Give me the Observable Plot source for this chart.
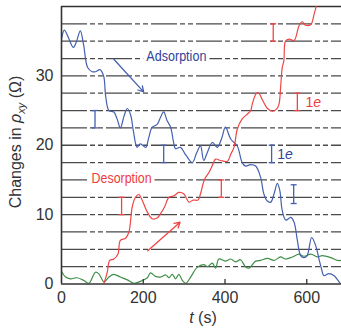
<!DOCTYPE html>
<html>
<head>
<meta charset="utf-8">
<script src="https://cdn.jsdelivr.net/npm/d3@7"></script>
<script src="https://cdn.jsdelivr.net/npm/@observablehq/plot@0.6"></script>
<style>
  body { margin: 0; background: #fff; }
  svg { display: block; }
</style>
</head>
<body>
<div id="chart"></div>
<script>
// Time axis (s) and changes in rho_xy (Ω) for each trace
const adsorptionT = [0, 7, 17, 29, 37, 46, 54, 64, 75, 83, 94, 103, 108, 116, 128, 136, 144, 153, 161, 169, 176, 185, 193, 206, 213, 222, 234, 242, 250, 258, 267, 274, 279, 291, 303, 320, 330, 340, 348, 357, 369, 381, 392, 401, 414, 430, 442, 450, 463, 475, 487, 495, 503, 512, 520, 528, 534, 540, 549, 561, 569, 577, 585, 593, 601, 612, 622, 630, 636, 642, 654, 667, 679, 690];
const adsorptionR = [35.3, 36.6, 35.5, 34.1, 35.0, 36.5, 34.5, 31.2, 30.6, 30.6, 30.9, 30.0, 27.1, 25.0, 24.8, 23.8, 22.5, 24.2, 25.3, 24.4, 22.0, 19.7, 20.2, 19.7, 21.0, 22.6, 23.0, 24.0, 24.8, 23.6, 22.6, 20.5, 19.5, 19.7, 18.7, 17.5, 18.8, 19.9, 17.8, 19.0, 20.4, 19.7, 21.0, 22.6, 20.9, 19.9, 17.5, 17.0, 17.2, 17.0, 15.4, 13.0, 12.0, 11.8, 13.0, 14.5, 13.5, 10.6, 9.2, 9.6, 8.9, 6.3, 4.1, 3.8, 4.1, 6.7, 5.5, 3.6, 2.2, 1.2, 1.5, 1.2, 0.3, -0.5];

const desorptionT = [104, 112, 118, 128, 138, 144, 157, 165, 173, 181, 189, 198, 208, 222, 234, 242, 252, 263, 275, 287, 299, 312, 322, 334, 340, 350, 361, 369, 377, 389, 406, 414, 422, 430, 442, 455, 463, 467, 477, 483, 491, 504, 516, 526, 532, 536, 540, 544, 548, 557, 569, 581, 589, 597, 610, 618, 624, 630];
const desorptionR = [0.1, 1.7, 3.4, 3.6, 4.3, 6.3, 6.6, 7.5, 11.1, 12.5, 12.9, 12.0, 10.6, 9.4, 9.5, 10.1, 11.1, 12.5, 12.7, 13.2, 13.0, 11.8, 12.1, 12.1, 13.0, 15.1, 16.1, 17.1, 18.0, 17.8, 17.7, 18.7, 19.7, 22.3, 23.8, 24.5, 25.0, 26.0, 27.5, 27.5, 26.6, 25.3, 24.9, 25.2, 25.9, 28.3, 31.2, 32.2, 35.0, 35.3, 35.1, 37.2, 37.8, 37.3, 37.4, 38.9, 40.2, 41.5];

const baselineT = [0, 10, 22, 38, 55, 67, 83, 91, 104, 116, 128, 144, 161, 177, 198, 210, 218, 230, 242, 255, 263, 271, 279, 287, 296, 304, 316, 332, 348, 357, 369, 377, 385, 402, 414, 426, 438, 450, 459, 475, 487, 504, 520, 536, 548, 565, 581, 593, 610, 626, 638, 659, 675, 685];
const baselineR = [1.8, 1.0, 0.75, 0.9, 0.5, 0.1, 1.7, 1.5, 0.3, 1.0, 1.4, 1.0, 0.6, 0.1, 0.5, 0.9, 1.6, 1.1, 1.0, 1.3, 0.9, 1.4, 0.75, 1.4, 0.5, 0.1, 1.0, 2.4, 2.8, 2.5, 3.0, 2.3, 3.6, 3.3, 3.6, 3.2, 3.5, 2.5, 2.3, 3.3, 3.4, 3.7, 3.4, 3.9, 3.6, 3.9, 4.3, 4.0, 4.3, 3.9, 4.1, 3.8, 3.4, 3.4];

// Quantized levels (one electron per step) and axis ticks
const levels = [2.5, 5, 7.5, 10, 12.5, 15, 17.5, 20, 22.5, 25, 27.5, 30, 32.5, 35, 37.5];
const xTicks = [0, 200, 400, 600];
const yTicks = [0, 10, 20, 30];

// One-electron scale bars
const blueBarT = [82, 250, 514, 568];
const blueBarLo = [22.5, 17.5, 17.5, 11.6];
const blueBarHi = [25, 20, 20, 14.3];
const redBarT = [147, 391, 518, 577];
const redBarLo = [10, 12.5, 35, 25];
const redBarHi = [12.5, 15, 37.5, 27.5];

// Trend arrows [t1, r1, t2, r2]
const blueArrow = [128, 32.4, 201, 27.7];
const redArrow = [211, 4.8, 290, 8.9];

// Annotations
const labelNames = ["Adsorption", "Desorption"];
const labelT = [281, 147];
const labelR = [32.8, 15.2];
const unitLabelT = [528, 597];
const unitLabelR = [18.7, 26.2];

const BLUE = "#4560b0", BLUE_TEXT = "#2f449a";
const RED = "#f04545", RED_TEXT = "#ef3b3b";
const GREEN = "#3f8f48";
const AXIS = "#333";

const series = (ts, rs) => ts.map((t, i) => ({t, r: rs[i]}));
const bars = (ts, lo, hi) => ts.map((t, i) => ({t, lo: lo[i], hi: hi[i]}));

// horizontal cap for scale bars, and an inward-pointing axis tick
const capSymbol = {draw(ctx, size) { const r = Math.sqrt(size / Math.PI); ctx.moveTo(-r, 0); ctx.lineTo(r, 0); }};
const tickSymbol = {draw(ctx, size) { const r = Math.sqrt(size / Math.PI); ctx.moveTo(0, 0); ctx.lineTo(0, -r); }};

const barMarks = (data, color) => [
  Plot.ruleX(data, {x: "t", y1: "lo", y2: "hi", stroke: color, strokeWidth: 1.3}),
  Plot.dot(data, {x: "t", y: "lo", symbol: capSymbol, r: 3, stroke: color, strokeWidth: 1.3, fill: "none"}),
  Plot.dot(data, {x: "t", y: "hi", symbol: capSymbol, r: 3, stroke: color, strokeWidth: 1.3, fill: "none"})
];

const chart = Plot.plot({
  width: 341,
  height: 330,
  marginTop: 6,
  marginRight: 0,
  marginBottom: 46.5,
  marginLeft: 61,
  x: {domain: [0, 685]},
  y: {domain: [0, 40]},
  style: {fontFamily: "'Liberation Sans', Arial, sans-serif", fontSize: "16px", color: AXIS, background: "#fff"},
  marks: [
    Plot.ruleY(levels, {stroke: "#4a4a4a", strokeWidth: 1.3, strokeDasharray: "26,3,5,3,5,3"}),
    Plot.ruleY([40], {stroke: AXIS, strokeWidth: 1.3}),
    Plot.line(series(baselineT, baselineR), {x: "t", y: "r", stroke: GREEN, strokeWidth: 1.2, curve: "catmull-rom", clip: true}),
    Plot.line(series(adsorptionT, adsorptionR), {x: "t", y: "r", stroke: BLUE, strokeWidth: 1.2, curve: "catmull-rom", clip: true}),
    Plot.line(series(desorptionT, desorptionR), {x: "t", y: "r", stroke: RED, strokeWidth: 1.2, curve: "catmull-rom", clip: true}),
    ...barMarks(bars(blueBarT, blueBarLo, blueBarHi), BLUE),
    ...barMarks(bars(redBarT, redBarLo, redBarHi), RED),
    Plot.arrow([blueArrow], {x1: d => d[0], y1: d => d[1], x2: d => d[2], y2: d => d[3], stroke: BLUE, strokeWidth: 1.3, headLength: 7}),
    Plot.arrow([redArrow], {x1: d => d[0], y1: d => d[1], x2: d => d[2], y2: d => d[3], stroke: RED, strokeWidth: 1.3, headLength: 7}),
    Plot.text(labelNames, {
      x: (d, i) => labelT[i], y: (d, i) => labelR[i], text: d => d,
      fill: (d, i) => i === 0 ? BLUE_TEXT : RED_TEXT,
      stroke: "#fff", strokeWidth: 8,
      fontSize: 14
    }),
    Plot.text(["1e", "1e"], {
      x: (d, i) => unitLabelT[i], y: (d, i) => unitLabelR[i], text: d => d,
      fill: (d, i) => i === 0 ? BLUE_TEXT : RED_TEXT,
      textAnchor: "start", fontSize: 14
    }),
    Plot.axisX({ticks: xTicks, tickSize: 0, tickPadding: 8, label: null, fontSize: 16}),
    Plot.axisY({ticks: yTicks, tickSize: 0, tickPadding: 8, label: null, fontSize: 16}),
    Plot.dot(xTicks.slice(1), {x: d => d, y: 0, symbol: tickSymbol, r: 5, stroke: AXIS, strokeWidth: 1.3}),
    Plot.ruleX([0], {stroke: AXIS, strokeWidth: 1.6}),
    Plot.ruleY([0], {stroke: AXIS, strokeWidth: 1.6})
  ]
});

const svg = d3.select(chart);

// condensed annotation labels
svg.selectAll("text").filter(function() { return labelNames.includes(this.textContent); })
  .attr("textLength", 60)
  .attr("lengthAdjust", "spacingAndGlyphs");

// italic electron symbol in the "1e" annotations
svg.selectAll("text").filter(function() { return this.textContent === "1e"; }).each(function() {
  const t = d3.select(this);
  t.text("1");
  t.append("tspan").attr("font-style", "italic").text("e");
});

// y-axis title: Changes in ρ_xy (Ω)
const yTitle = svg.append("text")
  .attr("transform", "translate(21,142) rotate(-90)")
  .attr("text-anchor", "middle")
  .attr("font-size", 16)
  .attr("fill", AXIS);
yTitle.append("tspan").text("Changes in ");
yTitle.append("tspan").attr("font-style", "italic").text("ρ");
yTitle.append("tspan").attr("font-style", "italic").attr("font-size", 11).attr("dy", 4).text("xy");
yTitle.append("tspan").attr("dy", -4).text(" (Ω)");

// x-axis title: t (s)
const xTitle = svg.append("text")
  .attr("x", 203).attr("y", 323)
  .attr("text-anchor", "middle")
  .attr("font-size", 16)
  .attr("fill", AXIS);
xTitle.append("tspan").attr("font-style", "italic").text("t");
xTitle.append("tspan").text(" (s)");

document.getElementById("chart").append(chart);
</script>
</body>
</html>
